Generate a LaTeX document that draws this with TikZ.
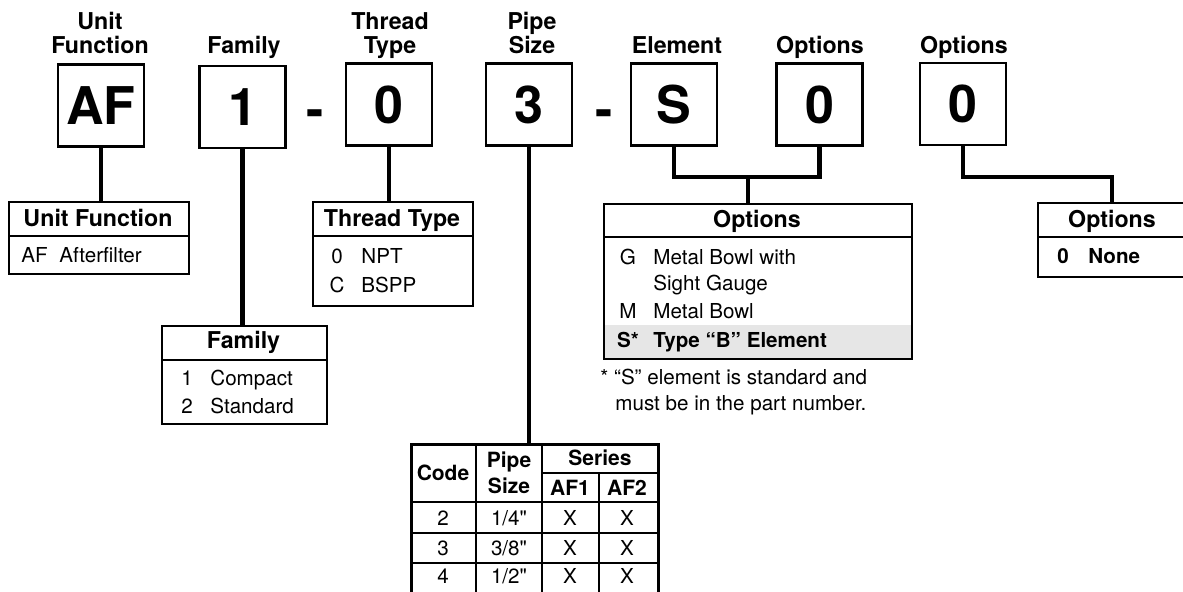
\documentclass[tikz,border=0pt]{standalone}
\usepackage{fontspec}
\setmainfont{TeX Gyre Heros}
\newfontfamily\inchfont{TeX Gyre Heros}[Ligatures=TeXOff]
\usetikzlibrary{positioning,calc}
\definecolor{rowgrey}{HTML}{E6E6E6}
\tikzset{
  codebox/.style={draw, line width=1.1pt, minimum width=43pt, minimum height=41pt,
                  inner sep=0pt, font=\fontsize{26}{30}\selectfont\bfseries},
  dashmark/.style={inner sep=0pt, anchor=base, font=\fontsize{26}{30}\selectfont\bfseries},
  headlbl/.style={font=\fontsize{11.6}{12}\selectfont\bfseries, align=center,
                  inner sep=0pt, anchor=base},
  wire/.style={line width=2.3pt},
  tabframe/.style={draw, line width=1.1pt, inner sep=0pt, anchor=north west},
  seprule/.style={line width=1.1pt},
  gridline/.style={line width=0.7pt},
  thd/.style={font=\fontsize{11.6}{12}\selectfont\bfseries, inner sep=0pt, anchor=base},
  tx/.style={font=\fontsize{10.3}{12}\selectfont, inner sep=0pt, anchor=base west},
  txc/.style={tx, anchor=base},
  pth/.style={font=\fontsize{10.5}{13}\selectfont\bfseries, inner sep=0pt,
              anchor=base, align=center},
}

\begin{document}
\begin{tikzpicture}[x=0.5pt, y=-0.5pt]
\useasboundingbox (0,0) rectangle (1183,591);

% ---------- the part number boxes ----------------------------------------
\foreach \nm/\x/\y/\txt in {bAF/101/105.5/AF, bFam/242.5/107/1, bThr/389/104.5/0,
    bPipe/529/104.5/3, bElem/674/104.5/S, bOpt/819.5/104.5/0, bOptb/963/104/0}{
  \node[codebox] (\nm) at (\x,\y) {\txt};}
\node[dashmark] (dashA) at (315,127) {-};
\node[dashmark] (dashB) at (604,127) {-};

% multi-line labels sit on the baseline of their last line
\node[headlbl] (cUnit) at (100,53) {Unit\\Function};
\node[headlbl] (cFam)  at (244,53) {Family};
\node[headlbl] (cThr)  at (390,53) {Thread\\Type};
\node[headlbl] (cPipe) at (532,53) {Pipe\\Size};
\node[headlbl] (cElem) at (677,53) {Element};
\node[headlbl] (cOpt)  at (820,53) {Options};
\node[headlbl] (cOptb) at (964,53) {Options};

% ---------- unit function ------------------------------------------------
\node[tabframe, minimum width=90pt, minimum height=36pt] (tUnit) at (8,201) {};
\draw[seprule] (8,236) -- (188,236);
\node[thd] (hUnit) at (98,226) {Unit Function};
\node[tx] (kUnit) at (21,262) {AF};
\node[tx] (vUnit) at (59,262) {Afterfilter};

% ---------- family -------------------------------------------------------
\node[tabframe, minimum width=82.5pt, minimum height=49pt] (tFam) at (161,325) {};
\draw[seprule] (161,360) -- (326,360);
\node[thd] (hFam) at (243.5,348) {Family};
\node[txc] (kFamA) at (187,385) {1}; \node[tx] (vFamA) at (210,385) {Compact};
\node[txc] (kFamB) at (187,413) {2}; \node[tx] (vFamB) at (210,413) {Standard};

% ---------- thread type --------------------------------------------------
\node[tabframe, minimum width=80pt, minimum height=52pt] (tThr) at (312,201) {};
\draw[seprule] (312,236) -- (472,236);
\node[thd] (hThr) at (392,226) {Thread Type};
\node[txc] (kThrA) at (337,263) {0}; \node[tx] (vThrA) at (361,263) {NPT};
\node[txc] (kThrB) at (337,292) {C}; \node[tx] (vThrB) at (361,292) {BSPP};

% ---------- element options ----------------------------------------------
\fill[rowgrey] (603,325) rectangle (911,358);
\node[tabframe, minimum width=154pt, minimum height=77.5pt] (tOpt) at (603,203) {};
\draw[seprule] (603,237) -- (911,237);
\node[thd] (hOpt) at (757,227) {Options};
\node[txc] (kOptA) at (628,264) {G}; \node[tx] (vOptA) at (653,264) {Metal Bowl with};
\node[tx] (vOptAb) at (653,290) {Sight Gauge};
\node[txc] (kOptB) at (628,318) {M}; \node[tx] (vOptB) at (653,318) {Metal Bowl};
\node[txc, font=\fontsize{10.3}{12}\selectfont\bfseries] (kOptC) at (628,347) {S*};
\node[tx, font=\fontsize{10.3}{12}\selectfont\bfseries] (vOptC) at (653,347) {Type “B” Element};
\node[tx] (fnA) at (600,384) {* “S” element is standard and};
\node[tx] (fnB) at (615,410) {must be in the part number.};

% ---------- last options -------------------------------------------------
\node[tabframe, minimum width=76.5pt, minimum height=37pt] (tOptb) at (1037,202) {};
\draw[seprule] (1037,237) -- (1190,237);
\node[thd] (hOptb) at (1112,227) {Options};
\node[txc, font=\fontsize{10.3}{12}\selectfont\bfseries] (kOptb) at (1063,263) {0};
\node[tx, font=\fontsize{10.3}{12}\selectfont\bfseries] (vOptb) at (1088,263) {None};

% ---------- pipe size table (runs off the bottom) -----------------------
\node[tabframe, line width=1.4pt, minimum width=123.5pt, minimum height=76.5pt]
   (tPipe) at (410,443) {};
\draw[gridline] (476,443) -- (476,596);
\draw[gridline] (542,443) -- (542,596);
\draw[gridline] (599,473) -- (599,596);
\draw[seprule] (542,473) -- (657,473);
\draw[seprule] (410,502) -- (657,502);
\draw[gridline] (410,533) -- (657,533);
\draw[gridline] (410,563) -- (657,563);
\node[pth] (pCode) at (443,480) {Code};
\node[pth] (pSize) at (509,493) {Pipe\\Size};
\node[pth] (pSer)  at (600,465) {Series};
\node[pth] (pAFa)  at (570,495) {AF1};
\node[pth] (pAFb)  at (627,495) {AF2};
\foreach \y/\c/\a/\b in {525/2/1/4, 555/3/3/8, 583/4/1/2}{
  \node[txc] (pc\c) at (443,\y) {\c};
  \node[txc] (ps\c) at (509,\y) {\inchfont\a/\b"};
  \node[txc] (pa\c) at (570,\y) {X};
  \node[txc] (pb\c) at (627,\y) {X};}

% ---------- connectors ---------------------------------------------------
\draw[wire] (bAF.south) -- (bAF.south |- tUnit.north);
\draw[wire] (bFam.south) -- (bFam.south |- tFam.north);
\draw[wire] (bThr.south) -- (bThr.south |- tThr.north);
\draw[wire] (bPipe.south) -- (bPipe.south |- tPipe.north);
\coordinate (jOpt) at (748,177);
\draw[wire] (bElem.south) |- (jOpt) -| (bOpt.south);
\draw[wire] (jOpt) -- (jOpt |- tOpt.north);
\coordinate (jOptb) at (1112,177);
\draw[wire] (bOptb.south) |- (jOptb) -- (jOptb |- tOptb.north);
\end{tikzpicture}
\end{document}
